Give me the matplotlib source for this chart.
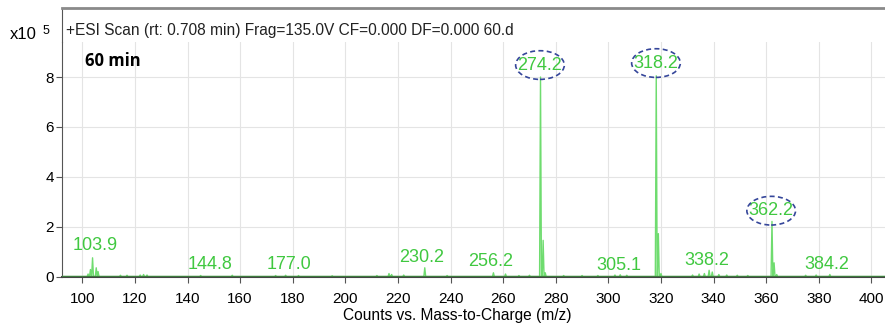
import numpy as np
import matplotlib
matplotlib.use("Agg")
import matplotlib.pyplot as plt
from matplotlib.patches import Ellipse

plt.rcParams["font.family"] = ["Liberation Sans", "DejaVu Sans"]

# peak list (m/z, counts x10^5)
peak_mz = [102.2, 103.1, 103.9, 105.3, 106.0, 114.5, 117.0, 122.0, 123.3, 124.6,
           145.0, 157.0, 173.5, 177.3, 182.2, 195.0, 212.0, 216.6, 217.6, 222.2,
           230.2, 238.7, 256.3, 260.9, 266.0, 270.0, 274.2, 275.2, 276.0, 283.0,
           290.0, 296.0, 302.5, 304.5, 307.0, 318.2, 319.0, 320.0, 332.0, 334.5,
           336.5, 338.3, 339.5, 342.0, 345.0, 349.0, 353.0, 362.2, 363.0, 364.0,
           375.0, 379.0, 384.2]
peak_h = [0.10, 0.28, 0.75, 0.35, 0.20, 0.05, 0.05, 0.06, 0.08, 0.06,
          0.04, 0.05, 0.04, 0.05, 0.04, 0.03, 0.04, 0.12, 0.08, 0.06,
          0.35, 0.04, 0.15, 0.10, 0.04, 0.05, 8.00, 1.45, 0.15, 0.04,
          0.04, 0.04, 0.06, 0.07, 0.05, 8.05, 1.72, 0.12, 0.06, 0.10,
          0.12, 0.25, 0.18, 0.08, 0.06, 0.05, 0.04, 2.21, 0.55, 0.08,
          0.05, 0.06, 0.08]

# labels: text, x, y
label_txt = ["103.9", "144.8", "177.0", "230.2", "256.2", "274.2", "305.1",
             "318.2", "338.2", "362.2", "384.2"]
label_x = [104.9, 148.7, 178.4, 229.0, 255.3, 274.0, 304.0, 318.1, 337.5, 361.9, 383.2]
label_y = [1.24, 0.48, 0.48, 0.76, 0.60, 8.48, 0.44, 8.56, 0.64, 2.64, 0.48]
circled = ["274.2", "318.2", "362.2"]

xticks = list(range(100, 401, 20))
yticks = [0, 2, 4, 6, 8]

# build a stick-like profile from the peak list
half = 0.35
px, py = [92.0], [0.0]
for m, h in zip(peak_mz, peak_h):
    px += [m - half, m, m + half]
    py += [0.0, h, 0.0]
px.append(406.0)
py.append(0.0)

fig = plt.figure(figsize=(8.85, 3.24), dpi=100)
ax = fig.add_axes([0.0701, 0.145, 0.93, 0.725])
hdr = fig.add_axes([0.0701, 0.870, 0.93, 0.105])

# spectrum ---------------------------------------------------------
ax.plot(px, py, color="#6fdc6f", lw=1.0, zorder=3)
ax.axhline(0, color="#3e7a3e", lw=1.6, zorder=4)

for t, x, y in zip(label_txt, label_x, label_y):
    ax.text(x, y, t, color="#40c840", fontsize=13, ha="center", va="center", zorder=5)
    if t in circled:
        ax.add_patch(Ellipse((x, y), 18.5, 1.15, fill=False, ec="#35469a",
                             ls=(0, (3, 2)), lw=1.2, zorder=5))

ax.set_xlim(92.3, 405.2)
ax.set_ylim(-0.02, 9.4)
ax.set_xticks(xticks)
ax.set_yticks(yticks)
ax.grid(True, color="#e4e4e4", lw=0.8)
ax.set_axisbelow(True)
ax.tick_params(labelsize=11, length=4, color="#555555", pad=2)
ax.tick_params(axis="x", pad=7)
ax.spines["top"].set_visible(False)
ax.spines["right"].set_visible(False)
ax.spines["left"].set_color("#555555")
ax.spines["bottom"].set_color("#444444")
ax.spines["bottom"].set_linewidth(1.5)
ax.set_xlabel("Counts vs. Mass-to-Charge (m/z)", fontsize=11.2, labelpad=0)
ax.xaxis.set_label_coords(0.48, -0.132)

ax.text(0.028, 0.92, "60 min", transform=ax.transAxes, fontsize=12,
        fontweight="bold", va="center", family=["Open Sans", "DejaVu Sans"])

# header strip -----------------------------------------------------
hdr.set_xticks([])
hdr.set_yticks([])
hdr.spines["right"].set_visible(False)
hdr.spines["bottom"].set_visible(False)
hdr.spines["top"].set_color("#8a8a8a")
hdr.spines["top"].set_linewidth(2)
hdr.spines["left"].set_color("#555555")
hdr.text(0.005, 0.35, "+ESI Scan (rt: 0.708 min) Frag=135.0V CF=0.000 DF=0.000 60.d",
         transform=hdr.transAxes, fontsize=11.2, va="center", color="#222222")

fig.text(0.011, 0.893, "x10", fontsize=12, va="center")
fig.text(0.048, 0.905, "5", fontsize=9, va="center")

fig.savefig("out.png", dpi=100)
